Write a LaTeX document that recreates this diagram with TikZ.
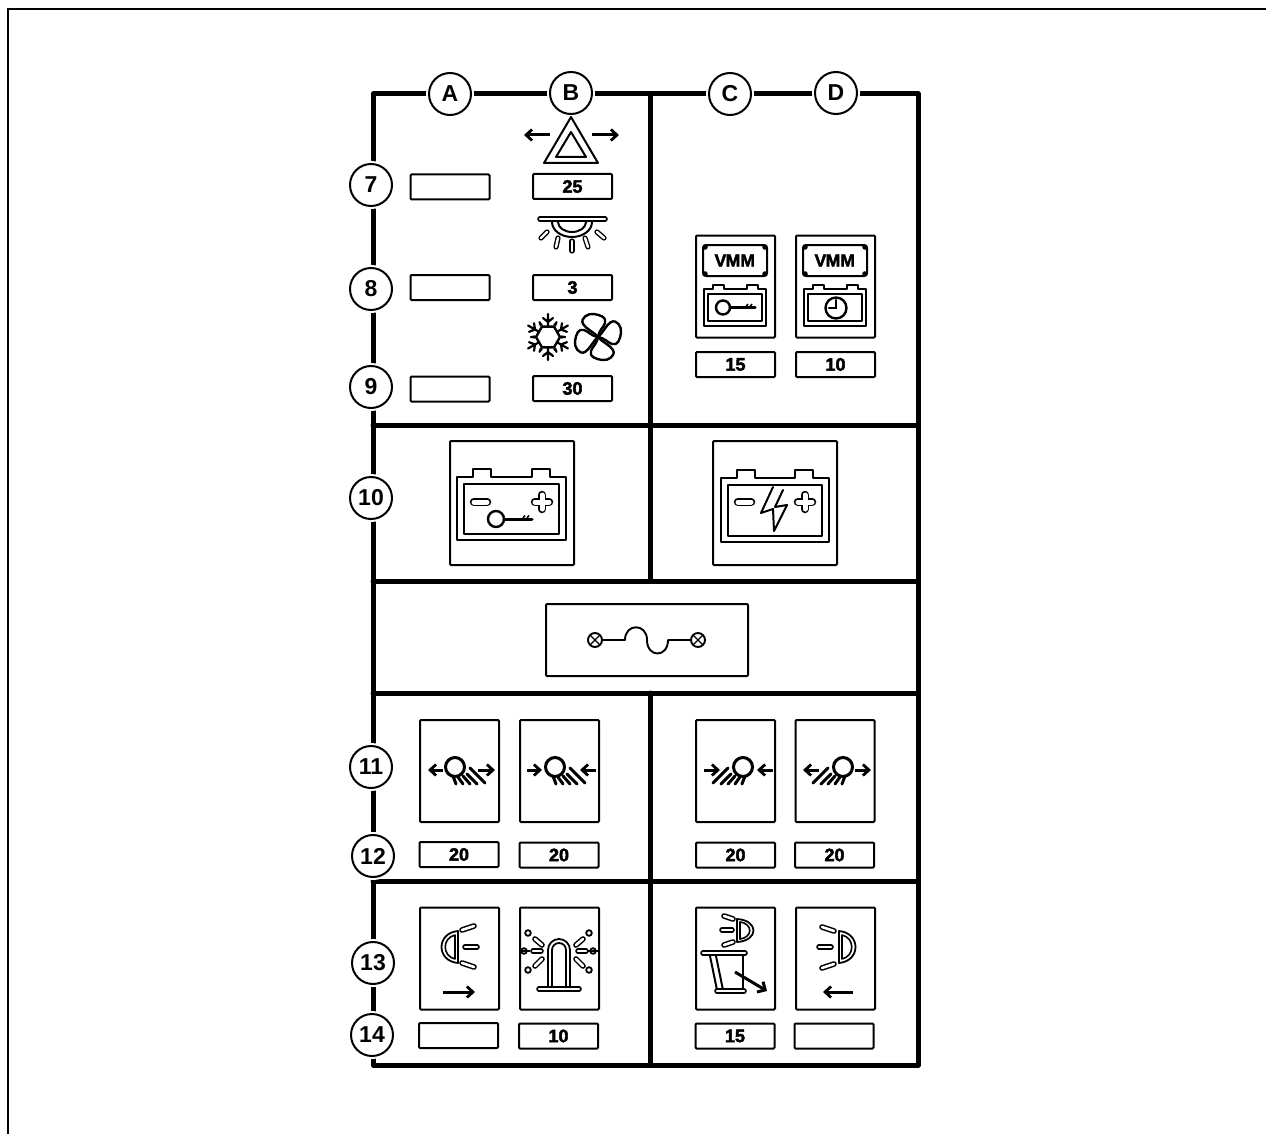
\documentclass[tikz,border=0pt]{standalone}
\usepackage{fontspec}
\setmainfont{Liberation Sans}
\newfontfamily\numfont[FakeBold=2.5]{Liberation Sans Bold}
\newfontfamily\capfont{Liberation Sans Bold}
\usetikzlibrary{arrows.meta}
\tikzset{
  x=1pt,y=-1pt,
  grid/.style={line width=5pt,line cap=round,line join=round},
  frameline/.style={line width=2pt},
  panel/.style={draw,line width=2pt,rounded corners=1pt,inner sep=0pt,fill=white},
  labelbox/.style={panel,minimum width=79pt,minimum height=25pt,font=\numfont\fontsize{18}{18}\selectfont},
  callout/.style={circle,draw,line width=2pt,fill=white,minimum size=42pt,inner sep=0pt,
     font=\capfont\fontsize{23}{23}\selectfont,preaction={draw=white,line width=6pt}},
  ic/.style={line width=2pt,line join=round,line cap=round},
  capsule/.style={draw=black,double=white,line width=1.5pt,double distance=2.6pt,line cap=round},
  arr/.style={line width=3pt,-{Straight Barb[length=6pt,width=11pt,line width=2.8pt]}},
}
\newcommand{\tallbox}[3]{\node[panel,minimum width=79pt,minimum height=102pt] (#1) at (#2,#3) {};}
\newcommand{\keyicon}[2]{% key, #1=radius #2=length
  \draw[line width=2.4pt] (0,0) circle (#1);
  \draw[line width=3pt,line cap=round] (#1,0) -- ++(#2,0);
  \draw[line width=1.5pt] (#1+#2-9,-1) -- ++(2,-2.5) (#1+#2-5,-1) -- ++(2,-2.5);}
\newcommand{\smallbatt}{% origin: top-left of battery body
  \draw[ic,line width=1.8pt] (0,0) -- (9,0) -- (9,-4) -- (20,-4) -- (20,0) -- (43,0) -- (43,-4) -- (54,-4) -- (54,0) -- (62,0) -- (62,37) -- (0,37) -- cycle;
  \draw[ic,line width=1.8pt] (4,5) rectangle (58,32);}
\newcommand{\vmmplate}[1]{% origin: top-left of plate; #1=node name
  \draw[ic,line width=2pt] (0,3) -- (3,0) -- (61,0) -- (64,3) -- (64,28) -- (61,31) -- (3,31) -- (0,28) -- cycle;
  \foreach \px/\py in {2/2,62/2,2/29,62/29}{\fill (\px,\py) circle (2.8);}
  \node[font=\numfont\fontsize{17.5}{17.5}\selectfont] (#1) at (32,15.5) {\kern-.5ptV\kern-.5ptMM};}
\newcommand{\bigbatt}[6]{% body x0,y0,x1,y1, minus right end, symbol y
  \draw[ic,line width=1.9pt] (#1,#2) -- (#1+16,#2) -- (#1+16,#2-8) -- (#1+34,#2-8) -- (#1+34,#2) -- (#3-34,#2) -- (#3-34,#2-8) -- (#3-16,#2-8) -- (#3-16,#2) -- (#3,#2) -- (#3,#4) -- (#1,#4) -- cycle;
  \draw[ic,line width=1.9pt] (#1+7,#2+7) rectangle (#3-7,#4-6);
  \draw[line width=8.5pt,line cap=round] (#5-17,#6) -- (#5-4,#6);
  \draw[line width=5pt,line cap=round,white] (#5-17,#6) -- (#5-4,#6);
  \draw[line width=8.5pt,line cap=round] (#3-24,#6-7) -- (#3-24,#6+7) (#3-31,#6) -- (#3-17,#6);
  \draw[line width=5pt,line cap=round,white] (#3-24,#6-7) -- (#3-24,#6+7) (#3-31,#6) -- (#3-17,#6);}
\newcommand{\beam}{% headlight with fan of rays, origin at centre
  \draw[line width=3pt] (0,0) circle (9.5);
  \foreach \ax/\ay/\bx/\by in {-2/9/1/17,3/10/8/17,8/9/15/17,12/7/22/17,15/1/30/16}{
    \draw[line width=3pt,line cap=round] (\ax,\ay) -- (\bx,\by);}}
\newcommand{\lampD}{% D-shaped lamp, flat side at x=0, bulge to -x
  \draw[ic,line width=1.8pt] (0,-16) .. controls (-22,-14) and (-22,14) .. (0,16) -- cycle;
  \draw[ic,line width=1.6pt] (-3,-12) .. controls (-16,-9) and (-16,9) .. (-3,12) -- cycle;}
\begin{document}
\begin{tikzpicture}
\path[use as bounding box,fill=white] (0,0) rectangle (1266,1134);
\draw[frameline] (1266,9) -- (8,9) -- (8,1134);
% grid
\coordinate (tl) at (373,94); \coordinate (tr) at (918,94);
\coordinate (bl) at (373,1065); \coordinate (br) at (918,1065);
\draw[grid] (tl) -- (tr) -- (br) -- (bl) -- cycle;
\draw[grid] (373,425) -- (918,425) (373,581) -- (918,581) (373,693) -- (918,693) (373,881) -- (918,881);
\draw[grid] (650,94) -- (650,581) (650,693) -- (650,1063);
% callouts
\foreach \nm/\px/\py/\tx in {ca/450/94/A,cb/571/93/B,cc/730/94/C,cd/836/93/D,c7/371/185/7,c8/371/289/8,c9/371/387/9,c10/371/498/10,c11/371/767/11,c12/373/856/12,c13/373/963/13,c14/372/1035/14}{
  \node[callout] (\nm) at (\px,\py) {\tx};}
% fuse label boxes
\foreach \nm/\px/\py/\tx in {a7/450/187/,b7/572.5/186.5/25,a8/450/287.5/,b8/572.5/287.5/3,a9/450/389/,b9/572.5/388.5/30,
  c15/735.5/364.5/15,d10/835.5/364.5/10,
  a12/459/854.5/20,b12/559/855/20,c12b/735.5/855/20,d12/834.5/855/20,
  a14/458.5/1035.5/,b14/558.5/1036/10,c14b/735/1036/15,d14/834/1036/}{
  \node[labelbox] (\nm) at (\px,\py) {\tx};}
% hazard
\draw[ic,line width=2pt] (571,117) -- (598,163) -- (544,163) -- cycle;
\draw[ic,line width=2pt] (571,132) -- (586,157) -- (556,157) -- cycle;
\draw[arr] (550,135) -- (524,135);
\draw[arr] (592,135) -- (619,135);
% dome light
\draw[capsule] (540,219) -- (605,219);
\draw[ic,line width=2pt] (552,222) arc[start angle=180,end angle=0,radius=20,y radius=15];
\draw[ic,line width=2pt] (558,222) arc[start angle=180,end angle=0,radius=14,y radius=10];
\foreach \ax/\ay/\bx/\by in {547/232/541/238,558/238/556/247,572/241/572/251,585/238/588/247,597/232/604/238}{
  \draw[capsule,line width=1.4pt,double distance=2.4pt] (\ax,\ay) -- (\bx,\by);}
% snowflake
\begin{scope}[shift={(548,337)}]
\draw[line width=2.4pt,line join=round] (0:12) -- (60:12) -- (120:12) -- (180:12) -- (240:12) -- (300:12) -- cycle;
\foreach \a in {30,90,...,330}{
  \begin{scope}[rotate=\a]
  \draw[ic,line width=2.2pt] (10.4,0) -- (23,0) (15,0) -- (19,-5) (15,0) -- (19,5);
  \draw[ic,line width=1.6pt] (12,-6) -- (15,-8.5) (12,6) -- (15,8.5);
  \end{scope}}
\end{scope}
% fan
\begin{scope}[shift={(598,337)}]
\foreach \a in {0,90,180,270}{
  \draw[ic,line width=2.4pt,rotate=\a] (0,0) .. controls (-4,-5) and (-12,-8) .. (-15,-13) .. controls (-18,-19) and (-10,-24) .. (-4,-23) .. controls (2,-22) and (9,-20) .. (7,-14) .. controls (6,-10) and (1,-7) .. (0,0);}
\fill (0,0) circle (1.5);
\end{scope}
% VMM panels
\tallbox{vk}{735.5}{286.5}
\tallbox{vc}{835.5}{286.5}
\begin{scope}[shift={(703,245)}]\vmmplate{vmma}\end{scope}
\begin{scope}[shift={(803,245)}]\vmmplate{vmmb}\end{scope}
\begin{scope}[shift={(704,289)}]\smallbatt\end{scope}
\begin{scope}[shift={(804,289)}]\smallbatt\end{scope}
\begin{scope}[shift={(723,307.5)}]\keyicon{7}{25}\end{scope}
\draw[line width=2.4pt] (836,308) circle (10.5);
\draw[line width=2.4pt,line cap=round] (836,300) -- (836,308) -- (829,308);
% big battery panels
\node[panel,minimum size=124pt] (bk) at (512,503) {};
\node[panel,minimum size=124pt] (bb) at (775,503) {};
\bigbatt{457}{477}{566}{540}{491}{502}
\bigbatt{721}{478}{829}{542}{755}{502}
\begin{scope}[shift={(496,519)}]\keyicon{8}{28}\end{scope}
\draw[ic,line width=2pt] (773,487) -- (761,513) -- (773,509) -- (774,531) -- (787,505) -- (775,507) -- (783,490);
% fuse
\node[panel,minimum width=202pt,minimum height=72pt] (fusebox) at (647,640) {};
\draw[line width=1.9pt] (595,640) circle (7);
\draw[line width=1.2pt] (590,635) -- (600,645) (590,645) -- (600,635);
\draw[line width=1.9pt] (698,640) circle (7);
\draw[line width=1.2pt] (693,635) -- (703,645) (693,645) -- (703,635);
\draw[line width=1.9pt,line join=round] (602,640) -- (625,640) .. controls (625,623) and (647,623) .. (647,640) .. controls (647,658) and (668,658) .. (668,640) -- (691,640);
% headlight panels
\tallbox{h1}{459.5}{771}
\tallbox{h2}{559.5}{771}
\tallbox{h3}{735.5}{771}
\tallbox{h4}{835}{771}
\begin{scope}[shift={(455,767)}]\beam\end{scope}
\begin{scope}[shift={(555,767)}]\beam\end{scope}
\begin{scope}[shift={(743,767)},xscale=-1]\beam\end{scope}
\begin{scope}[shift={(843,767)},xscale=-1]\beam\end{scope}
\draw[arr] (443,770) -- (428,770);
\draw[arr] (478,770) -- (495,770);
\draw[arr] (527,770) -- (542,770);
\draw[arr] (596,770) -- (580,770);
\draw[arr] (704,770) -- (720,770);
\draw[arr] (773,770) -- (757,770);
\draw[arr] (819,770) -- (803,770);
\draw[arr] (855,770) -- (871,770);
% bottom panels
\tallbox{l1}{459.5}{958.5}
\tallbox{l2}{559.5}{958.5}
\tallbox{l3}{735.5}{958.5}
\tallbox{l4}{835.5}{958.5}
% left-hand lamp
\begin{scope}[shift={(458,947)}]\lampD\end{scope}
\draw[capsule] (462,930) -- (474,926);
\draw[capsule] (465,947) -- (477,947);
\draw[capsule] (462,963) -- (474,967);
\draw[arr] (443,992) -- (475,992);
% beacon
\draw[ic,line width=1.8pt] (552,988) -- (552,950) arc[start angle=180,end angle=0,radius=7,y radius=-7] -- (566,988);
\draw[ic,line width=1.8pt] (548,988) -- (548,950) arc[start angle=180,end angle=0,radius=11,y radius=-11] -- (570,988);
\draw[capsule] (539,989) -- (579,989);
\foreach \ax/\ay/\bx/\by/\dx/\dy in {533/951/541/951/524/951,578/951/586/951/593/951,535/939/542/945/528/933,583/939/576/945/589/933,535/966/542/959/528/970,583/966/576/959/589/970}{
  \draw[capsule] (\ax,\ay) -- (\bx,\by);
  \draw[line width=1.8pt] (\dx,\dy) circle (2.8);}
\draw[line width=1.8pt] (521,951) -- (530,951) (588,951) -- (598,951);
% work lamp and cab
\begin{scope}[shift={(737,930.5)},xscale=-1,yscale=.72]\lampD\end{scope}
\draw[capsule] (724,916) -- (733,919);
\draw[capsule] (722,930) -- (732,930);
\draw[capsule] (724,945) -- (733,942);
\draw[capsule] (703,953) -- (745,953);
\draw[ic,line width=2pt] (710,956) -- (717,990) (716,956) -- (723,990);
\draw[ic,line width=2pt] (743,955) -- (743,990);
\draw[capsule] (717,991) -- (744,991);
\draw[line width=3pt,-{Straight Barb[length=6pt,width=12pt,line width=3pt]}] (735,972) -- (767,991);
% right-hand lamp
\begin{scope}[shift={(839,947)},xscale=-1]\lampD\end{scope}
\draw[capsule] (822,927) -- (834,931);
\draw[capsule] (819,947) -- (831,947);
\draw[capsule] (822,968) -- (834,964);
\draw[arr] (853,992) -- (823,992);
\end{tikzpicture}
\end{document}
